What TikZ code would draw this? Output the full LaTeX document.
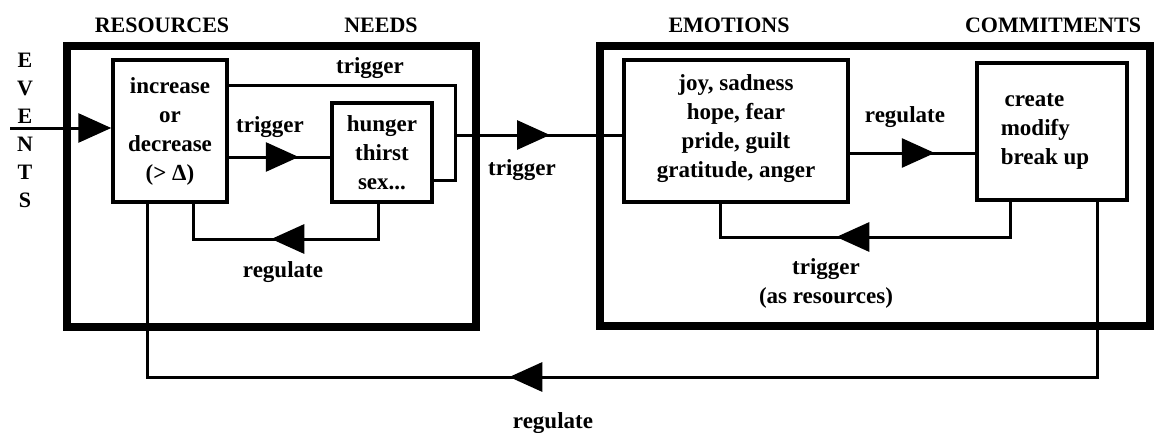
\documentclass[tikz,border=0pt]{standalone}
\usepackage{fontspec}
\setmainfont{Liberation Serif}
\usetikzlibrary{arrows.meta,decorations.markings}
\tikzset{
  txt/.style={font=\bfseries\fontsize{23}{29}\selectfont, align=center, inner sep=0pt},
  hdr/.style={font=\bfseries\fontsize{22}{26}\selectfont, inner sep=0pt},
  box/.style={draw, line width=3.5pt, inner sep=0pt, txt},
  frame/.style={draw, line width=7.5pt},
  conn/.style={line width=3pt},
  tip/.style={-{Triangle[length=33pt,width=29pt]}},
  midarrow/.style={postaction={decorate, decoration={markings,
      mark=at position #1 with {\arrow{Triangle[length=33pt,width=29pt]}}}}}
}
\begin{document}
\begin{tikzpicture}[x=1pt,y=-1pt]
\useasboundingbox (0,0) rectangle (1155,433);
% frames
\draw[frame] (67,46) rectangle (476,327);
\draw[frame] (600,46) rectangle (1150,326);
% headers
\node[hdr] (hres) at (162,25) {RESOURCES};
\node[hdr] (hneed) at (381,25) {NEEDS};
\node[hdr] (hemo) at (729,25) {EMOTIONS};
\node[hdr] (hcom) at (1053,25) {COMMITMENTS};
\node[txt, font=\bfseries\fontsize{22}{28}\selectfont] (events) at (25,130) {E\\V\\E\\N\\T\\S};
% boxes
\node[box, minimum width=114pt, minimum height=142pt] (inc) at (170,131)
  {increase\\or\\decrease\\(> Δ)};
\node[box, minimum width=100pt, minimum height=99pt] (needs) at (382,152.5)
  {hunger\\thirst\\sex...};
\node[box, minimum width=224pt, minimum height=142pt, text depth=10pt] (emo) at (736,131)
  {joy, sadness\\hope, fear\\pride, guilt\\gratitude, anger};
\node[box, minimum width=150pt, minimum height=137pt, align=left] (com) at (1052,131.5)
  {\,create\\modify\\break up\hspace*{14pt}};
% coordinates
\coordinate (ev) at (10,128);
\coordinate (t1) at (0,157);
\coordinate (j1) at (455,86);
\coordinate (j2) at (455,180);
\coordinate (j3) at (455,135);
\coordinate (r1) at (378,239);
\coordinate (r2) at (193,239);
\coordinate (e1) at (0,153);
\coordinate (c1) at (1010,237);
\coordinate (c2) at (720,237);
\coordinate (b1) at (1097,377);
\coordinate (b2) at (147,377);
% connectors
\draw[conn, tip] (ev) -- (ev -| inc.west);
\draw[conn, midarrow=70pt] (inc.east |- t1) -- (needs.west |- t1);
\draw[conn] (inc.east |- j1) -- (j1) -- (j2) -- (needs.east |- j2);
\draw[conn, midarrow=95pt] (j3) -- (emo.west |- j3);
\draw[conn, midarrow=142pt] (r1 |- needs.south) -- (r1) -- (r2) -- (r2 |- inc.south);
\draw[conn, midarrow=85pt] (emo.east |- e1) -- (com.west |- e1);
\draw[conn, midarrow=209pt] (c1 |- com.south) -- (c1) -- (c2) -- (c2 |- emo.south);
\draw[conn, midarrow=763pt] (b1 |- com.south) -- (b1) -- (b2) -- (b2 |- inc.south);
% labels
\node[txt] (l1) at (370,68) {trigger};
\node[txt] (l2) at (270,127) {trigger};
\node[txt] (l3) at (283,272) {regulate};
\node[txt] (l4) at (522,170) {trigger};
\node[txt] (l5) at (905,117) {regulate};
\node[txt] (l6) at (826,283) {trigger\\(as resources)};
\node[txt] (l7) at (553,423) {regulate};
\end{tikzpicture}
\end{document}
